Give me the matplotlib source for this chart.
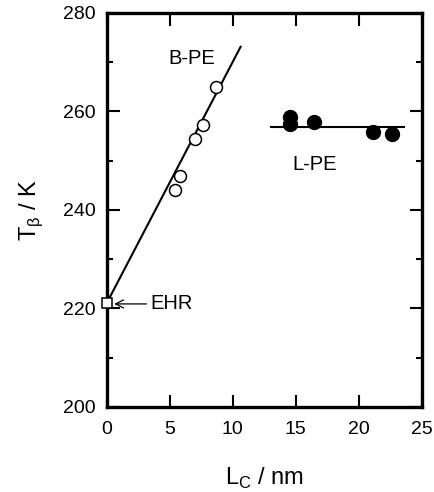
import matplotlib
matplotlib.use('Agg')
import matplotlib.pyplot as plt
from matplotlib.ticker import MultipleLocator

plt.rcParams['font.family'] = ['Liberation Sans', 'DejaVu Sans']

# branched PE (open circles)
bpe_lc = [5.47, 5.84, 7.0, 7.62, 8.65]
bpe_t = [244.0, 246.9, 254.4, 257.3, 265.0]
# linear PE (filled circles)
lpe_lc = [14.57, 14.57, 16.48, 21.15, 22.64]
lpe_t = [258.9, 257.5, 257.8, 255.7, 255.3]
# EHR point
ehr_lc = [0.0]
ehr_t = [221.0]
# fit lines
bfit_x = [0.0, 10.64]
bfit_y = [221.0, 273.1]
lfit_x = [13.03, 23.64]
lfit_y = [256.9, 256.9]

fig = plt.figure(figsize=(4.35, 4.92), dpi=100)
ax = fig.add_axes([0.245, 0.173, 0.724, 0.801])

ax.plot(bfit_x, bfit_y, color='black', lw=1.5, zorder=2)
ax.plot(lfit_x, lfit_y, color='black', lw=1.5, zorder=2)
ax.plot(bpe_lc, bpe_t, 'o', ms=8.6, mfc='white', mec='black', mew=1.1, zorder=3)
ax.plot(lpe_lc, lpe_t, 'o', ms=10, mfc='black', mec='black', zorder=3)
ax.plot(ehr_lc, ehr_t, 's', ms=7.2, mfc='white', mec='black', mew=1.1,
        clip_on=False, zorder=4)

ax.text(6.75, 270.7, 'B-PE', fontsize=14.5, ha='center', va='center')
ax.text(16.5, 249.3, 'L-PE', fontsize=14.5, ha='center', va='center')
ax.annotate('EHR', xy=(0.6, 220.9), xytext=(3.5, 220.9), fontsize=14.5,
            ha='left', va='center',
            arrowprops=dict(arrowstyle='->', color='black', lw=0.9,
                            shrinkA=1, shrinkB=0))

ax.set_xlim(0, 25)
ax.set_ylim(200, 280)
ax.xaxis.set_major_locator(MultipleLocator(5))
ax.yaxis.set_major_locator(MultipleLocator(20))
ax.yaxis.set_minor_locator(MultipleLocator(10))
ax.tick_params(which='both', direction='in', top=True, right=True,
               labelsize=14, width=1.5)
ax.tick_params(axis='x', pad=10)
ax.tick_params(axis='y', pad=8)
ax.tick_params(which='major', length=9)
ax.tick_params(which='minor', length=4.5)
for s in ax.spines.values():
    s.set_linewidth(2.4)

ax.set_xlabel('L$_\\mathregular{C}$ / nm', fontsize=17, labelpad=20)
ax.set_ylabel('T$_\\mathregular{\\beta}$ / K', fontsize=17, labelpad=13)

fig.savefig('out.png', dpi=100)
